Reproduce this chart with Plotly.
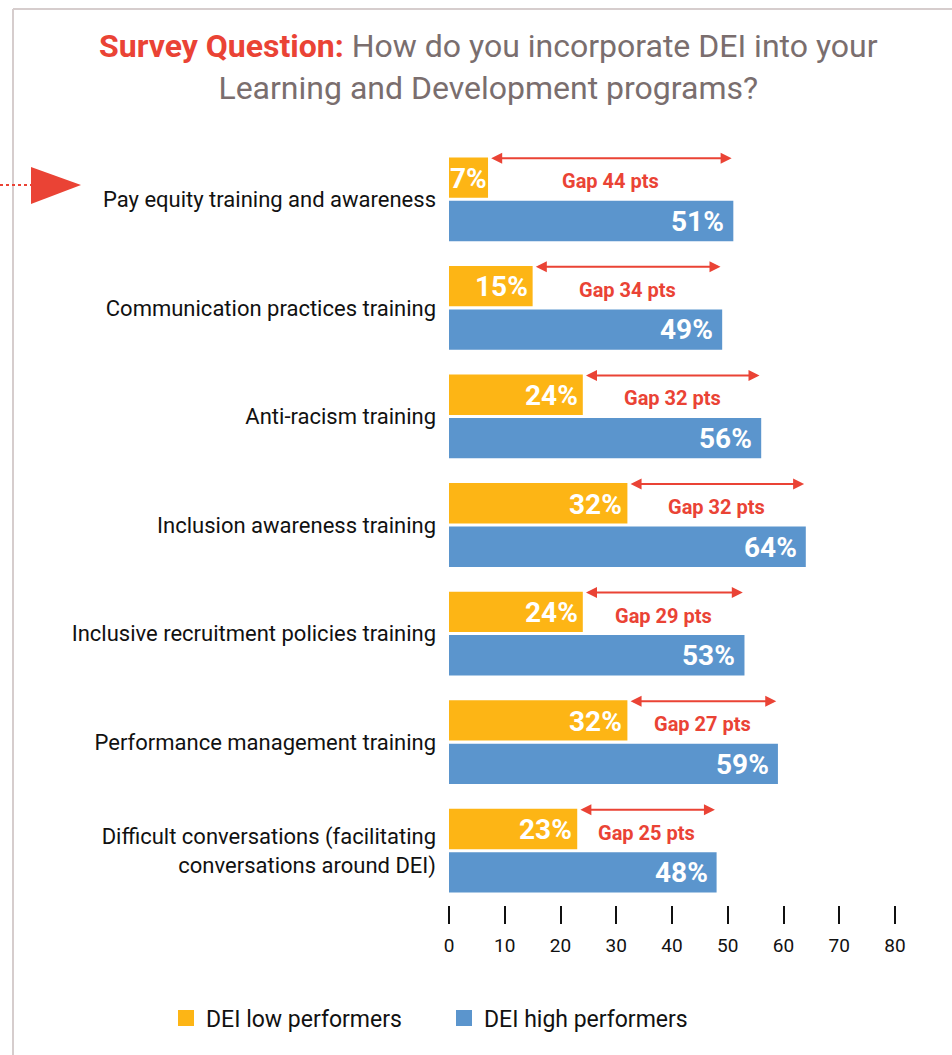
import plotly.graph_objects as go

categories = [
    "Pay equity training and awareness",
    "Communication practices training",
    "Anti-racism training",
    "Inclusion awareness training",
    "Inclusive recruitment policies training",
    "Performance management training",
    "Difficult conversations (facilitating<br>conversations around DEI)",
]
low_performers = [7, 15, 24, 32, 24, 32, 23]
high_performers = [51, 49, 56, 64, 53, 59, 48]
gaps = [44, 34, 32, 32, 29, 27, 25]
x_ticks = [0, 10, 20, 30, 40, 50, 60, 70, 80]

ORANGE = "#FDB515"
BLUE = "#5B95CD"
RED = "#EA4335"
GRAY = "#7A6E6E"
FONT = "Roboto, Arial, sans-serif"

W, H = 952, 1055
L, R, T, B = 449, 57, 145, 150
PW = W - L - R
PH = H - T - B


def px(xp):
    return (xp - L) / PW


def py(yp):
    return (H - B - yp) / PH


fig = go.Figure()
fig.add_trace(go.Bar(y=categories, x=low_performers, orientation="h",
                     marker=dict(color=ORANGE, line=dict(width=0)),
                     name="DEI low performers", showlegend=False, hoverinfo="x"))
fig.add_trace(go.Bar(y=categories, x=high_performers, orientation="h",
                     marker=dict(color=BLUE, line=dict(width=0)),
                     name="DEI high performers", showlegend=False, hoverinfo="x"))
# legend proxies
fig.add_trace(go.Scatter(x=[None], y=[None], mode="markers", name="DEI low performers",
                         marker=dict(symbol="square", size=18, color=ORANGE)))
fig.add_trace(go.Scatter(x=[None], y=[None], mode="markers", name="DEI high performers",
                         marker=dict(symbol="square", size=18, color=BLUE)))

annotations = []
for cat, lo, hi, g in zip(categories, low_performers, high_performers, gaps):
    annotations.append(dict(x=lo, y=cat, text=f"<b>{lo}%</b>", showarrow=False,
                            xanchor="right", xshift=-3 if lo >= 10 else 1, yshift=21,
                            font=dict(family=FONT, size=28, color="white")))
    annotations.append(dict(x=hi, y=cat, text=f"<b>{hi}%</b>", showarrow=False,
                            xanchor="right", xshift=-7, yshift=-22,
                            font=dict(family=FONT, size=28, color="white")))
    annotations.append(dict(x=hi - 0.3, y=cat, ax=lo + 0.3, axref="x", ay=0, ayref="pixel",
                            text="", showarrow=True, arrowhead=2, arrowside="end+start",
                            arrowsize=1.1, arrowwidth=2, arrowcolor=RED, yshift=41,
                            standoff=0, startstandoff=0))
    annotations.append(dict(x=(lo + hi) / 2, y=cat, text=f"<b>Gap {g} pts</b>", showarrow=False,
                            xanchor="center", yshift=18,
                            font=dict(family=FONT, size=20, color=RED)))

annotations.append(dict(
    xref="paper", yref="paper", x=px(488), y=py(67), xanchor="center", yanchor="middle",
    text=f"<b><span style='color:{RED}'>Survey Question:</span></b> How do you incorporate DEI into your<br>Learning and Development programs?",
    showarrow=False, align="center", font=dict(family=FONT, size=32, color=GRAY)))

shapes = [
    dict(type="line", xref="paper", yref="paper", x0=px(13), x1=px(952), y0=py(9), y1=py(9),
         line=dict(color="#D6CDCD", width=2)),
    dict(type="line", xref="paper", yref="paper", x0=px(13), x1=px(13), y0=py(9), y1=py(1060),
         line=dict(color="#D6CDCD", width=2)),
    dict(type="line", xref="paper", yref="paper", x0=px(0), x1=px(31), y0=py(185), y1=py(185),
         line=dict(color=RED, width=2, dash="dot")),
    dict(type="path", xref="paper", yref="paper",
         path=f"M {px(31)} {py(167)} L {px(81)} {py(185)} L {px(31)} {py(204)} Z",
         fillcolor=RED, line=dict(width=0)),
]

fig.update_layout(
    width=W, height=H,
    margin=dict(l=L, r=R, t=T, b=B, autoexpand=False),
    paper_bgcolor="white", plot_bgcolor="white",
    barmode="group", bargap=0.2, bargroupgap=0.07,
    font=dict(family=FONT, color="#111111"),
    xaxis=dict(range=[0, 80], tickvals=x_ticks, ticks="outside", ticklen=18, tickwidth=2,
               tickcolor="#111111", showgrid=False, zeroline=False, showline=False,
               tickfont=dict(family=FONT, size=19, color="#111111"), ticklabelstandoff=5,
               fixedrange=True),
    yaxis=dict(autorange="reversed", showgrid=False, zeroline=False, showline=False,
               ticks="", ticklabelstandoff=12,
               tickfont=dict(family=FONT, size=22, color="#111111"), fixedrange=True),
    legend=dict(orientation="h", xref="paper", yref="paper",
                x=px(166), y=py(1018), xanchor="left", yanchor="middle",
                font=dict(family=FONT, size=23, color="#111111"),
                itemsizing="trace", entrywidth=233, entrywidthmode="pixels"),
    annotations=annotations, shapes=shapes,
)

fig.write_html("out.html", config={"displayModeBar": False},
               post_script="document.body.style.margin='0px';document.body.style.overflow='hidden';")
